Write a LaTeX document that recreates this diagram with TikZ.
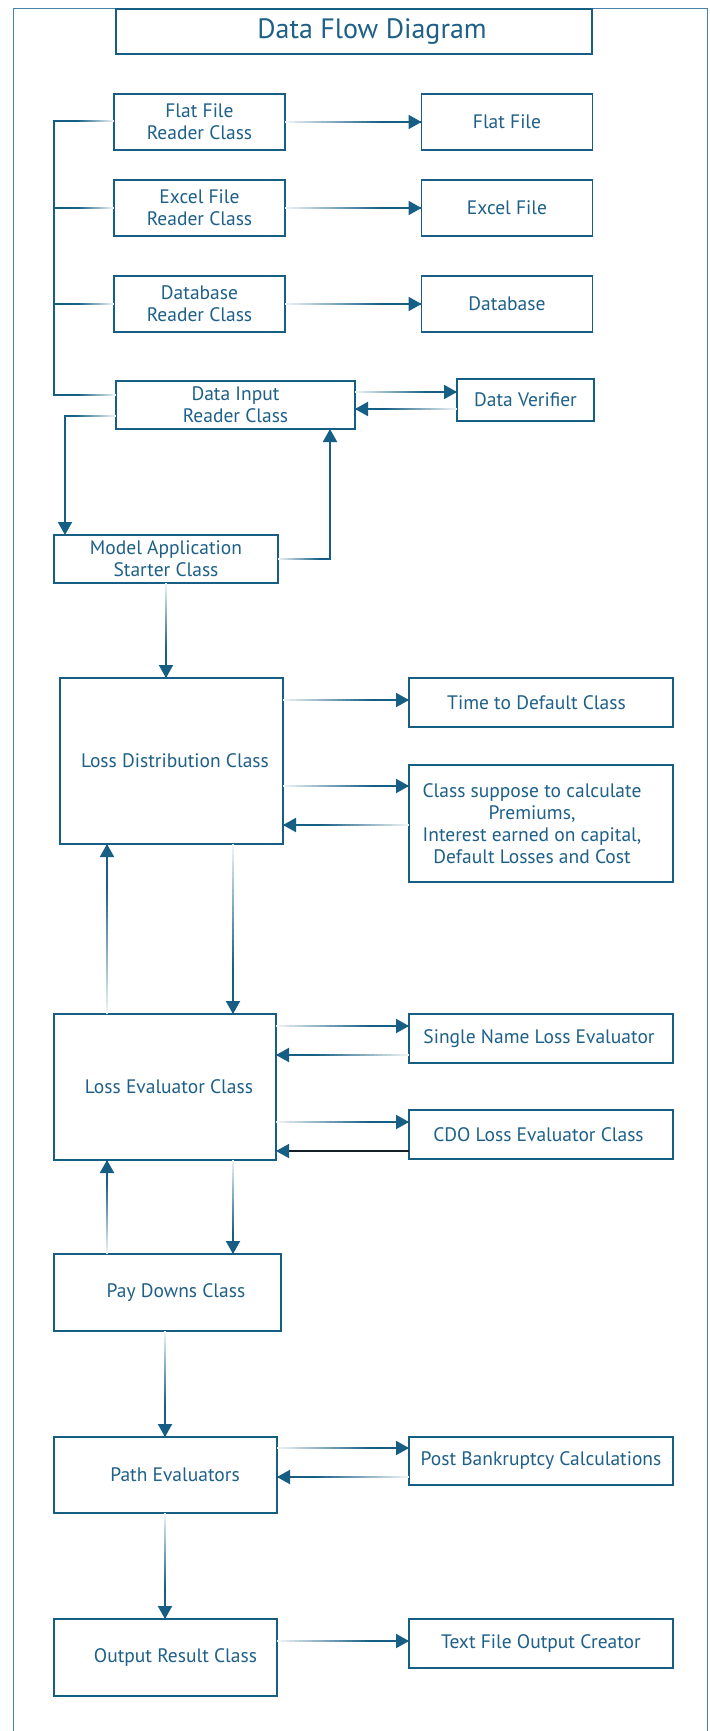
\documentclass[tikz,border=0pt]{standalone}
\usepackage{fontspec}
\setmainfont{PT Sans}
\usetikzlibrary{calc,arrows.meta}
\definecolor{cdark}{RGB}{22,94,132}
\definecolor{ctext}{RGB}{30,96,136}
\definecolor{cframe}{RGB}{70,130,170}
\definecolor{cblack}{RGB}{20,30,40}
\tikzset{
  box/.style={draw=cdark, line width=1.2pt, inner sep=0pt, outer sep=0pt,
    text=ctext, font=\fontsize{19.5}{22}\selectfont, align=center},
  conn/.style={line width=2pt},
  tipstyle/.style={-{Triangle[length=13pt,width=14pt]}},
}
\newcommand\gradline[3]{%
  \foreach \gi in {1,...,30}{%
    \pgfmathsetmacro\gta{(\gi-1)/30}%
    \pgfmathsetmacro\gtb{\gi/30}%
    \pgfmathtruncatemacro\gp{min(100,6+94*((\gi-0.5)/30)/#3)}%
    \draw[conn, draw=cdark!\gp!white] ($#1!\gta!#2$) -- ($#1!\gtb!#2$);
  }%
}
% #1 start coordinate, #2 -| or |-, #3 target anchor, #4 gradient fraction
\newcommand\garrow[4]{%
  \coordinate (ga) at #1;%
  \coordinate (gb) at (ga #2 #3);%
  \gradline{(ga)}{(gb)}{#4}%
  \draw[conn, tipstyle, cdark] ($(gb)!15pt!(ga)$) -- (gb);%
}
\begin{document}
\begin{tikzpicture}[x=1pt, y=-1pt]
\useasboundingbox (0,0) rectangle (709,1731);
\fill[white] (0,0) rectangle (709,1731);
\draw[cframe, line width=1pt] (13,1745) -- (13,8.5) -- (707.5,8.5) -- (707.5,1745);

% title
\node[box, minimum width=476pt, minimum height=45pt, font=\fontsize{28}{32}\selectfont] (title) at (354,31.5) {\hspace*{36pt}Data Flow Diagram};

% reader boxes
\node[box, minimum width=171pt, minimum height=56pt] (ffr) at (199.5,122) {Flat File\\Reader Class};
\node[box, minimum width=171pt, minimum height=56pt] (ff) at (507,122) {Flat File};
\node[box, minimum width=171pt, minimum height=56pt] (efr) at (199.5,208) {Excel File\\Reader Class};
\node[box, minimum width=171pt, minimum height=56pt] (ef) at (507,208) {Excel File};
\node[box, minimum width=171pt, minimum height=56pt] (dbr) at (199.5,304) {Database\\Reader Class};
\node[box, minimum width=171pt, minimum height=56pt] (db) at (507,304) {Database};
\node[box, minimum width=239pt, minimum height=48pt] (di) at (235.5,405) {Data Input\\Reader Class};
\node[box, minimum width=137pt, minimum height=42pt] (dv) at (525.5,400) {Data Verifier};
\node[box, minimum width=224pt, minimum height=48pt] (ma) at (166,559) {Model Application\\Starter Class};

\node[box, minimum width=223pt, minimum height=166pt] (ld) at (171.5,761) {\hspace*{7pt}Loss Distribution Class};
\node[box, minimum width=264pt, minimum height=49pt] (tdc) at (541,702.5) {\hspace*{-9pt}Time to Default Class};
\node[box, minimum width=264pt, minimum height=117pt] (csc) at (541,823.5) {\hspace*{-18pt}Class suppose to calculate\\\hspace*{-18pt}Premiums,\\\hspace*{-18pt}Interest earned on capital,\\\hspace*{-18pt}Default Losses and Cost};

\node[box, minimum width=222pt, minimum height=146pt] (le) at (165,1087) {\hspace*{8pt}Loss Evaluator Class};
\node[box, minimum width=264pt, minimum height=49pt] (sn) at (541,1038.5) {\hspace*{-4pt}Single Name Loss Evaluator};
\node[box, minimum width=264pt, minimum height=49pt] (cdo) at (541,1134.5) {\hspace*{-5pt}CDO Loss Evaluator Class};

\node[box, minimum width=227pt, minimum height=77pt] (pd) at (167.5,1292.5) {\hspace*{17pt}Pay Downs Class};
\node[box, minimum width=223pt, minimum height=76pt] (pe) at (165.5,1475) {\hspace*{19pt}Path Evaluators};
\node[box, minimum width=264pt, minimum height=48pt] (pbc) at (541,1461) {Post Bankruptcy Calculations};
\node[box, minimum width=223pt, minimum height=77pt] (or) at (165.5,1657.5) {\hspace*{20pt}Output Result Class};
\node[box, minimum width=264pt, minimum height=49pt] (tfoc) at (541,1643.5) {Text File Output Creator};

% reader -> file
\garrow{(ffr.east)}{-|}{ff.west}{0.7}
\garrow{(efr.east)}{-|}{ef.west}{0.7}
\garrow{(dbr.east)}{-|}{db.west}{0.7}

% bracket
\coordinate (bt) at ($(ffr.west)+(-60,-1)$);
\coordinate (dis) at ($(di.north west)+(0,14)$);
\coordinate (bb) at (bt |- dis);
\draw[line width=2.4pt, cdark, line cap=rect] (bt) -- (bb);
\gradline{($(ffr.west)+(0,-1)$)}{(bt)}{0.6}
\gradline{(efr.west)}{(efr.west -| bt)}{0.6}
\gradline{(dbr.west)}{(dbr.west -| bt)}{0.6}
\gradline{(dis)}{(bb)}{0.6}

% data input <-> verifier
\garrow{($(di.north east)+(0,11)$)}{-|}{dv.west}{0.7}
\garrow{($(dv.north west)+(0,30)$)}{-|}{di.east}{0.7}

% data input -> model app
\coordinate (dil) at ($(di.north west)+(0,35)$);
\coordinate (mat) at ($(ma.north west)+(11,0)$);
\coordinate (c1) at (mat |- dil);
\gradline{(dil)}{(c1)}{0.8}
\draw[conn, tipstyle, cdark] ($(c1)+(0,-1)$) -- (mat);

% model app -> data input
\coordinate (dib) at ($(di.south east)+(-25,0)$);
\coordinate (c2) at (dib |- ma.east);
\gradline{(ma.east)}{(c2)}{0.8}
\draw[conn, tipstyle, cdark] ($(c2)+(0,1)$) -- (dib);

% model app -> loss distribution
\garrow{(ma.south)}{|-}{ld.north}{0.7}

% loss distribution <-> right boxes
\garrow{($(ld.north east)+(0,22)$)}{-|}{tdc.west}{0.7}
\garrow{($(ld.north east)+(0,108)$)}{-|}{csc.west}{0.7}
\garrow{($(csc.north west)+(0,60)$)}{-|}{ld.east}{0.7}

% loss distribution <-> loss evaluator
\garrow{($(ld.south west)+(173,0)$)}{|-}{le.north}{0.72}
\garrow{($(le.north west)+(53,0)$)}{|-}{ld.south}{0.75}

% loss evaluator <-> right boxes
\garrow{($(le.north east)+(0,12)$)}{-|}{sn.west}{0.7}
\garrow{($(sn.north west)+(0,41)$)}{-|}{le.east}{0.7}
\garrow{($(le.north east)+(0,108)$)}{-|}{cdo.west}{0.7}
\coordinate (cdoa) at ($(cdo.north west)+(0,41)$);
\draw[line width=1.6pt, cblack, -{Triangle[length=13pt,width=14pt,color=cdark]}] (cdoa) -- (cdoa -| le.east);

% loss evaluator <-> pay downs
\garrow{($(le.south west)+(179,0)$)}{|-}{pd.north}{0.78}
\garrow{($(pd.north west)+(53,0)$)}{|-}{le.south}{0.75}

% pay downs -> path evaluators
\garrow{($(pd.south west)+(111,0)$)}{|-}{pe.north}{0.7}
\garrow{($(pe.north east)+(0,11)$)}{-|}{pbc.west}{0.7}
\garrow{($(pbc.north west)+(0,40)$)}{-|}{pe.east}{0.7}

% path evaluators -> output
\garrow{($(pe.south west)+(111,0)$)}{|-}{or.north}{0.7}
\garrow{($(or.north east)+(0,22)$)}{-|}{tfoc.west}{0.7}
\end{tikzpicture}
\end{document}
